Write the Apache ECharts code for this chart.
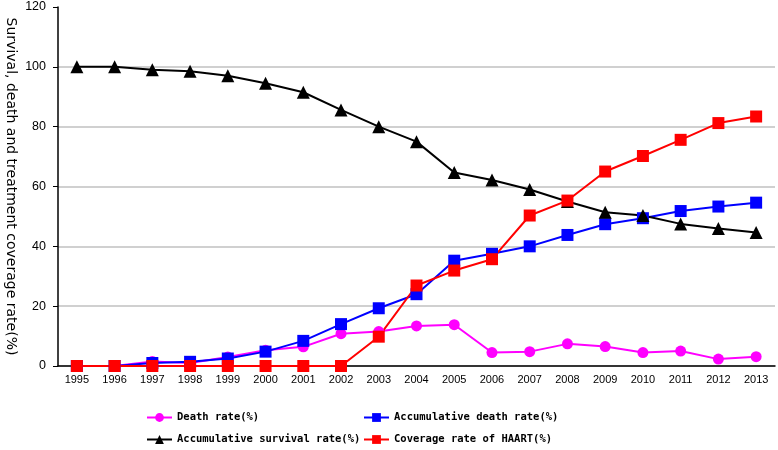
<!DOCTYPE html>
<html>
<head>
<meta charset="utf-8">
<script src="https://cdn.jsdelivr.net/npm/echarts@6/dist/echarts.min.js"></script>
<style>html,body{margin:0;padding:0;background:#fff}#c{width:778px;height:450px}</style>
</head>
<body>
<div id="c"></div>
<script>
var years = ['1995','1996','1997','1998','1999','2000','2001','2002','2003','2004','2005','2006','2007','2008','2009','2010','2011','2012','2013'];
var deathRate = [0, 0, 1.5, 1, 3, 5.3, 6.4, 10.8, 11.5, 13.4, 13.8, 4.5, 4.8, 7.4, 6.5, 4.5, 5, 2.3, 3.1];
var accDeathRate = [0, 0, 1, 1.4, 2.5, 4.8, 8.4, 14, 19.3, 24, 35.2, 37.5, 40, 43.8, 47.4, 49.4, 51.8, 53.3, 54.6];
var accSurvivalRate = [100, 100, 99, 98.5, 97, 94.5, 91.5, 85.6, 80, 75, 64.7, 62.2, 59, 55, 51.4, 50.3, 47.5, 46, 44.6];
var haartRate = [0, 0, 0, 0, 0, 0, 0, 0, 9.8, 26.9, 31.9, 35.7, 50.3, 55.3, 65, 70.2, 75.6, 81.2, 83.4];
var yTicks = [0, 20, 40, 60, 80, 100, 120];

var names = ['Death rate(%)', 'Accumulative death rate(%)', 'Accumulative survival rate(%)', 'Coverage rate of HAART(%)'];
var legendFont = {fontFamily: 'DejaVu Sans Mono', fontSize: 10.5, fontWeight: 'bold', color: '#000'};
function lg(name, left, top) {
  return {data: [name], left: left, top: top, itemWidth: 25, itemHeight: 11, itemGap: 4, padding: 0, textStyle: legendFont};
}
var chart = echarts.init(document.getElementById('c'));
chart.setOption({
  animation: false,
  backgroundColor: '#fff',
  grid: {left: 58, right: 3, top: 7, bottom: 84, containLabel: false, outerBoundsMode: 'none'},
  legend: [lg(names[0], 146, 412), lg(names[1], 363, 412), lg(names[2], 146, 434), lg(names[3], 363, 434)],
  xAxis: {
    type: 'category', data: years, boundaryGap: true,
    axisLine: {lineStyle: {color: '#000', width: 1.5}},
    axisTick: {inside: true, length: 5, lineStyle: {color: '#000'}},
    axisLabel: {color: '#000', fontFamily: 'Liberation Sans', fontSize: 11, margin: 8, interval: 0}
  },
  yAxis: {
    type: 'value', min: 0, max: 120, interval: 20,
    name: 'Survival, death and treatment coverage rate(%)',
    nameLocation: 'middle', nameRotate: -90, nameGap: 40, nameMoveOverlap: false,
    nameTextStyle: {fontFamily: 'DejaVu Sans', fontSize: 14, color: '#000'},
    axisLine: {show: true, lineStyle: {color: '#000', width: 1.5}},
    axisTick: {show: true, length: 5, lineStyle: {color: '#000'}},
    axisLabel: {color: '#000', fontFamily: 'Liberation Sans', fontSize: 12.5, margin: 12,
      formatter: function (v) { return yTicks.indexOf(v) >= 0 ? String(v) : ''; }},
    splitLine: {show: true, showMaxLine: false, lineStyle: {color: '#c0c0c0', width: 1.5}}
  },
  series: [
    {name: names[0], type: 'line', data: deathRate, symbol: 'circle', symbolSize: 11,
      itemStyle: {color: '#ff00ff'}, lineStyle: {color: '#ff00ff', width: 2}},
    {name: names[1], type: 'line', data: accDeathRate, symbol: 'rect', symbolSize: 12,
      itemStyle: {color: '#0000ff'}, lineStyle: {color: '#0000ff', width: 2}},
    {name: names[2], type: 'line', data: accSurvivalRate, symbol: 'triangle', symbolSize: 13,
      itemStyle: {color: '#000'}, lineStyle: {color: '#000', width: 2}},
    {name: names[3], type: 'line', data: haartRate, symbol: 'rect', symbolSize: 12,
      itemStyle: {color: '#ff0000'}, lineStyle: {color: '#ff0000', width: 2}}
  ]
});
</script>
</body>
</html>
